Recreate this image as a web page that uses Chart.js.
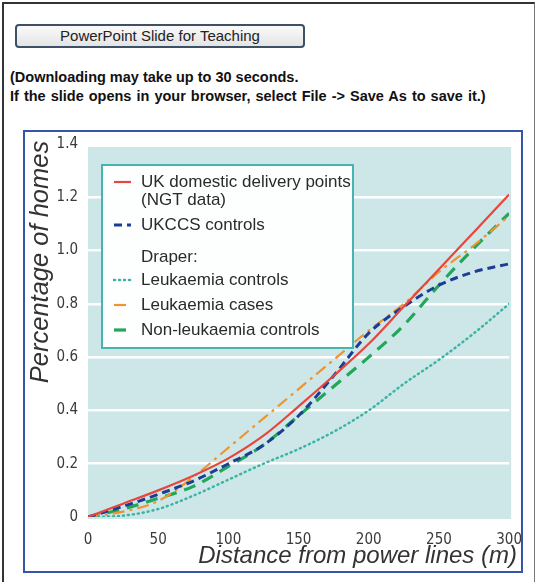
<!DOCTYPE html>
<html>
<head>
<meta charset="utf-8">
<script src="https://cdn.jsdelivr.net/npm/chart.js@4"></script>
<style>
    body { margin: 0; background: #fff; font-family: "Liberation Sans", Arial, sans-serif; }
    .page { position: absolute; left: 2px; top: 2px; width: 530px; height: 578px; border-left: 2px solid #333; border-top: 2px solid #333; border-right: 1px solid #777; }
    .btn { position: absolute; left: 15px; top: 24px; width: 286px; height: 20px; border: 2px solid #3d5166; border-radius: 4px;
           background: linear-gradient(#fafafa, #e4e4e4); font-size: 15px; color: #222; text-align: center; line-height: 20px; }
    .note { position: absolute; left: 10px; top: 68px; font-size: 14.5px; font-weight: bold; color: #111; line-height: 19px; }
    .note .l2 { word-spacing: 1px; }
    .frame { position: absolute; left: 23px; top: 130px; width: 496px; height: 439px; border: 2.5px solid #3556a6; pointer-events: none; z-index: 2; }
    .chart-box { position: absolute; left: 26px; top: 125px; width: 502px; height: 447px; }
    .mask { position: absolute; left: 525px; top: 120px; width: 6px; height: 460px; background: #fff; z-index: 1; }
</style>
</head>
<body>
<div class="page"></div>
<div class="btn">PowerPoint Slide for Teaching</div>
<div class="note"><div>(Downloading may take up to 30 seconds.</div><div class="l2">If the slide opens in your browser, select File -&gt; Save As to save it.)</div></div>
<div class="chart-box"><canvas id="chart"></canvas></div>
<div class="mask"></div>
<div class="frame"></div>
<script>
// distance from power lines (m)
const distances = [0, 25, 50, 75, 100, 125, 150, 175, 200, 225, 250, 275, 300];
// percentage of homes
const ukDelivery = [0, 0.05, 0.10, 0.155, 0.22, 0.305, 0.415, 0.53, 0.65, 0.79, 0.93, 1.07, 1.21];
const ukccsControls = [0, 0.04, 0.085, 0.135, 0.20, 0.27, 0.38, 0.53, 0.69, 0.79, 0.87, 0.92, 0.95];
const leukControls = [0, 0.005, 0.03, 0.08, 0.14, 0.20, 0.255, 0.32, 0.40, 0.50, 0.59, 0.69, 0.80];
const leukCases = [0, 0.02, 0.06, 0.15, 0.26, 0.37, 0.48, 0.59, 0.70, 0.80, 0.92, 1.02, 1.13];
const nonLeukControls = [0, 0.03, 0.07, 0.115, 0.19, 0.27, 0.38, 0.49, 0.60, 0.72, 0.87, 1.01, 1.14];
const yTicks = [0, 0.2, 0.4, 0.6, 0.8, 1.0, 1.2, 1.4];
const xTicks = [0, 50, 100, 150, 200, 250, 300];

const pts = arr => arr.map((v, i) => ({ x: distances[i], y: v }));

const series = [
    { label: "UK domestic delivery points", data: ukDelivery, color: "#e8453c", width: 2.2, dash: [] },
    { label: "UKCCS controls", data: ukccsControls, color: "#1d3c94", width: 3, dash: [8, 5] },
    { label: "Leukaemia controls", data: leukControls, color: "#3bb4a4", width: 2.5, dash: [1, 4], cap: "round" },
    { label: "Leukaemia cases", data: leukCases, color: "#f0922e", width: 2.2, dash: [12, 5, 3, 5] },
    { label: "Non-leukaemia controls", data: nonLeukControls, color: "#22a65a", width: 3.2, dash: [12, 8] }
];

const narrow = "'Liberation Sans Narrow', 'DejaVu Sans Condensed', sans-serif";

const shade = {
    id: "shade",
    beforeDraw(chart) {
        const a = chart.chartArea, c = chart.ctx;
        c.save();
        c.fillStyle = "#cde7e9";
        c.fillRect(a.left, a.top + 3, a.right - a.left + 2, a.bottom - a.top - 1);
        c.restore();
    }
};

const extras = {
    id: "extras",
    afterDraw(chart) {
        const c = chart.ctx;
        c.save();
        // axis titles
        c.fillStyle = "#333";
        c.textBaseline = "middle";
        c.textAlign = "right";
        c.font = "italic 24px 'Liberation Sans', Arial, sans-serif";
        c.fillText("Distance from power lines (m)", 491, 431);
        c.translate(15, 137);
        c.rotate(-Math.PI / 2);
        c.textAlign = "center";
        c.font = "italic 25.5px 'Liberation Sans', Arial, sans-serif";
        c.fillText("Percentage of homes", 0, 0);
        c.restore();

        // legend box
        c.save();
        c.fillStyle = "#fdfefe";
        c.strokeStyle = "#48b3b1";
        c.lineWidth = 2;
        c.fillRect(76, 40, 251, 183);
        c.strokeRect(76, 40, 251, 183);
        c.font = "17px 'Liberation Sans', Arial, sans-serif";
        c.fillStyle = "#2a2a2a";
        c.textBaseline = "middle";
        const rows = [
            { s: series[0], y: 57 }, { text: "(NGT data)", y: 75 },
            { s: series[1], y: 100 }, { text: "Draper:", y: 132 },
            { s: series[2], y: 155 }, { s: series[3], y: 180 }, { s: series[4], y: 205 }
        ];
        rows.forEach(r => {
            if (r.s) {
                c.beginPath();
                c.strokeStyle = r.s.color;
                c.lineWidth = r.s.width;
                c.lineCap = r.s.cap || "butt";
                c.setLineDash(r.s.dash);
                c.moveTo(88, r.y);
                c.lineTo(105, r.y);
                c.stroke();
                c.setLineDash([]);
                c.fillText(r.s.label, 115, r.y);
            } else {
                c.fillText(r.text, 115, r.y);
            }
        });
        c.restore();
    }
};

new Chart(document.getElementById("chart"), {
    type: "line",
    data: {
        datasets: series.map(s => ({
            label: s.label,
            data: pts(s.data),
            borderColor: s.color,
            borderWidth: s.width,
            borderDash: s.dash,
            borderCapStyle: s.cap || "butt",
            pointRadius: 0,
            cubicInterpolationMode: "monotone",
            fill: false
        }))
    },
    options: {
        responsive: true,
        maintainAspectRatio: false,
        animation: false,
        layout: { padding: { top: 10, right: 10, left: 0, bottom: 0 } },
        plugins: { legend: { display: false }, tooltip: { enabled: false } },
        scales: {
            x: {
                type: "linear", min: 0, max: 300,
                afterBuildTicks: s => { s.ticks = xTicks.map(v => ({ value: v })); },
                afterFit: s => { s.height = 55; },
                grid: { display: false },
                border: { display: false },
                ticks: { color: "#3a3a3a", padding: 6, font: { family: narrow, size: 15 } }
            },
            y: {
                min: 0, max: 1.4,
                afterBuildTicks: s => { s.ticks = yTicks.map(v => ({ value: v })); },
                afterFit: s => { s.width = 62; },
                grid: { color: c => c.tick && c.tick.value === 0 ? "rgba(0,0,0,0)" : "#ffffff", lineWidth: 2.5, drawTicks: false },
                border: { display: false },
                ticks: { color: "#3a3a3a", padding: 10, font: { family: narrow, size: 15 },
                         callback: v => v === 0 ? "0" : v.toFixed(1) }
            }
        }
    },
    plugins: [shade, extras]
});
</script>
</body>
</html>
